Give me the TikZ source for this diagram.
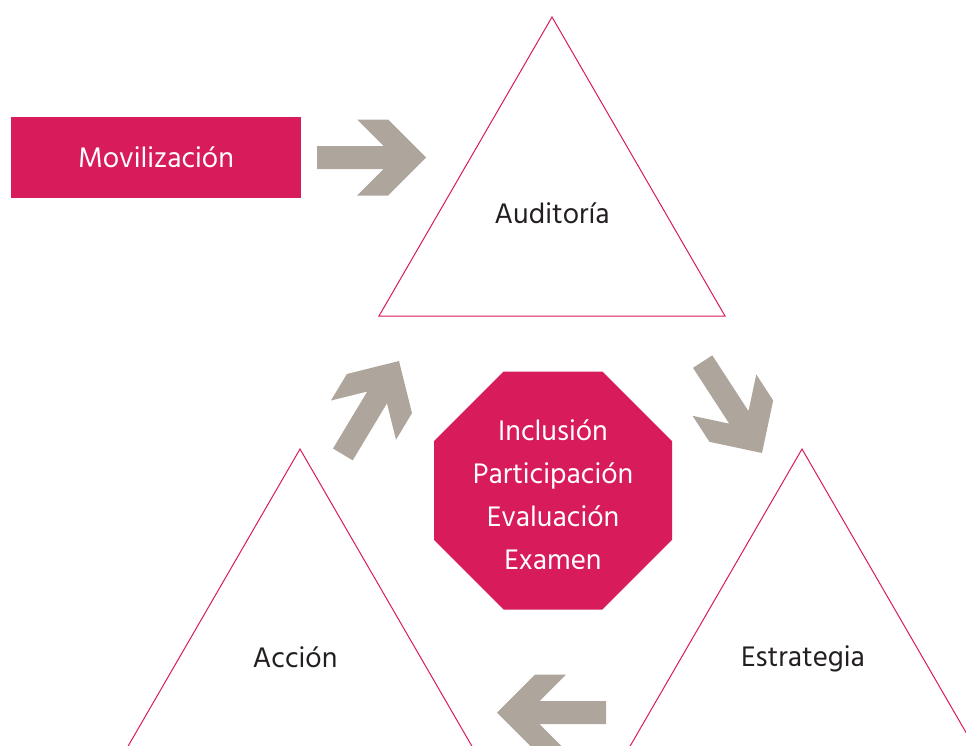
\documentclass[tikz,border=0pt]{standalone}
\usepackage{fontspec}
\setmainfont{Hind Siliguri}
\usepackage{tikz}
\usetikzlibrary{shapes.geometric}
\definecolor{crimson}{RGB}{216,27,90}
\definecolor{arrowgray}{RGB}{174,166,157}
\definecolor{textgray}{RGB}{35,31,32}

\begin{document}
\begin{tikzpicture}[x=1pt,y=-1pt,
every node/.style={font=\fontsize{29}{43}\selectfont},
box/.style={fill=crimson,text=white,minimum width=290pt,minimum height=81pt,inner sep=0pt},
octa/.style={regular polygon,regular polygon sides=8,minimum size=257.6pt,
	fill=crimson,inner sep=0pt},
lista/.style={text=white,align=center},
tri/.style={draw=crimson,line width=1pt},
lbl/.style={text=textgray},
blockarrow/.pic={\fill[arrowgray] (0,0) -- (-38,-38) -- (-69,-38) -- (-42.5,-11.5)
	-- (-109,-11.5) -- (-109,11.5) -- (-42.5,11.5) -- (-69,38) -- (-38,38) -- cycle;}]

\useasboundingbox (0,0) rectangle (966,745);
\clip (0,0) rectangle (966,745);

% Triangles
\draw[tri] (552,17) -- (725,316) -- (379,316) -- cycle; % Auditoria
\draw[tri] (300,449) -- (473,748) -- (127,748) -- cycle; % Accion
\draw[tri] (802,449) -- (975,748) -- (629,748) -- cycle; % Estrategia

% Nodes
\node[box] (moviliz) at (156,157.5) {Movilización};
\node[octa] (valores) at (553,490.5) {};
\node[lista] (valtext) at ([yshift=-4pt]valores.center) {Inclusión\\Participación\\Evaluación\\Examen};
\node[lbl] (audit) at (552,213) {Auditoría};
\node[lbl] (accion) at (295,657) {Acción};
\node[lbl] (estrat) at (803,659) {Estrategia};

% Arrows
\pic at (426,157.5) {blockarrow};
\pic[rotate=-57] at (762,453) {blockarrow};
\pic[rotate=180] at (497,712.5) {blockarrow};
\pic[rotate=59] at (399,361) {blockarrow};

\end{tikzpicture}
\end{document}
